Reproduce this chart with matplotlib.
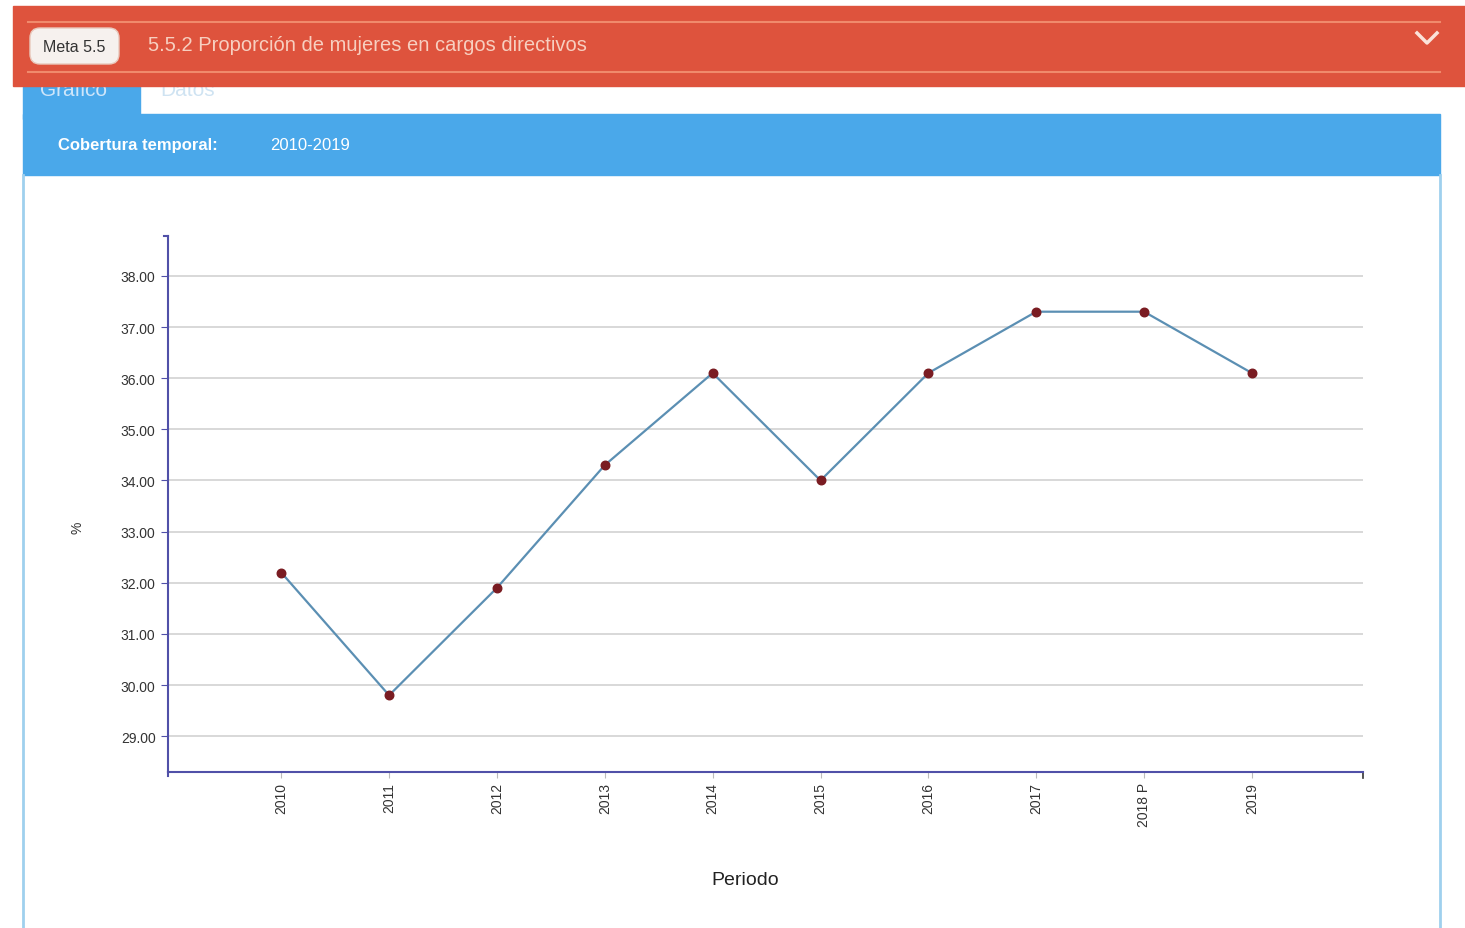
import matplotlib.pyplot as plt
from matplotlib.patches import FancyBboxPatch, Rectangle
import numpy as np

periods = ['2010', '2011', '2012', '2013', '2014', '2015', '2016', '2017', '2018 P', '2019']
values = [32.2, 29.8, 31.9, 34.3, 36.1, 34.0, 36.1, 37.3, 37.3, 36.1]
y_ticks = [29, 30, 31, 32, 33, 34, 35, 36, 37, 38]

plt.rcParams['font.family'] = ['Liberation Sans', 'DejaVu Sans']

W, H = 1465, 929
fig = plt.figure(figsize=(W / 100, H / 100), dpi=100)
fig.patch.set_facecolor('white')

def fx(px):
	return px / W

def fy(py):
	return 1 - py / H

# page chrome drawn in pixel coords
bg = fig.add_axes([0, 0, 1, 1])
bg.set_xlim(0, W)
bg.set_ylim(H, 0)
bg.axis('off')

# blue tab + bar
bg.add_patch(Rectangle((23, 75), 117, 45, color='#4aa8ea', zorder=1))
bg.add_patch(Rectangle((23, 115), 1417, 61, color='#4aa8ea', zorder=1))
bg.text(58, 145, 'Cobertura temporal:', color='white', fontsize=12, fontweight='bold', va='center', ha='left')
bg.text(270, 145, '2010-2019', color='white', fontsize=12, va='center', ha='left')
bg.text(160, 90, 'Datos', color='#cfe3f2', fontsize=15, va='center', ha='left')
bg.text(40, 90, 'Gráfico', color='#cfe6fa', fontsize=15, va='center', ha='left')

# panel borders
bg.plot([23, 23], [176, 929], color='#9fd0ee', lw=2)
bg.plot([1440, 1440], [176, 929], color='#9fd0ee', lw=2)

# red header
bg.add_patch(Rectangle((13, 7), 1452, 80, color='#de533d', zorder=3))
bg.plot([28, 1440], [23, 23], color='#f08a6c', lw=1.5, zorder=4)
bg.plot([28, 1440], [73, 73], color='#f08a6c', lw=1.5, zorder=4)
bg.add_patch(FancyBboxPatch((32, 31), 85, 32, boxstyle='round,pad=2,rounding_size=10',
	facecolor='#f6f1ee', edgecolor='#e9c9bd', zorder=5))
bg.text(74, 47, 'Meta 5.5', color='#333333', fontsize=11.5, ha='center', va='center', zorder=6)
bg.text(148, 45, '5.5.2 Proporción de mujeres en cargos directivos', color='#f7cfc0',
	fontsize=14.5, ha='left', va='center', zorder=6)
bg.plot([1417, 1427, 1437], [34, 44, 34], color='#fbe3da', lw=2.5, zorder=6)

# axis labels placed like the reference
bg.text(78, 528, '%', rotation=90, fontsize=10, color='#333333', ha='center', va='center')
bg.text(745, 881, 'Periodo', fontsize=14, color='#222222', ha='center', va='center')

# chart
ax = fig.add_axes([fx(168), fy(773), fx(1363) - fx(168), fy(237) - fy(773)])
x = np.arange(len(periods))
ax.set_xlim(-1.05, 10.03)
ax.set_ylim(28.3, 38.78)
for v in y_ticks:
	ax.axhline(v, color='#d6d6d6', lw=1.3, zorder=1)
ax.plot(x, values, color='#5b8fb3', lw=1.6, zorder=2)
ax.scatter(x, values, color='#7a1c22', s=38, zorder=3)

ax.set_yticks(y_ticks)
ax.set_yticklabels(['%.2f' % v for v in y_ticks], fontsize=10, color='#333333')
ax.set_xticks(x)
ax.set_xticklabels(periods, rotation=90, fontsize=10, color='#333333')
ax.tick_params(axis='y', length=5, color='#5050a8', pad=4)
ax.tick_params(axis='x', length=4, color='#bbbbbb', pad=3)

for s in ['top', 'right']:
	ax.spines[s].set_visible(False)
ax.spines['left'].set_color('#5050a8')
ax.spines['bottom'].set_color('#5050a8')
ax.spines['left'].set_linewidth(1.5)
ax.spines['bottom'].set_linewidth(1.5)
ax.set_facecolor('none')

# small end caps on the axes
bg.plot([164, 168], [237, 237], color='#5050a8', lw=1.5)
bg.plot([168, 168], [773, 777], color='#5050a8', lw=1.5)
bg.plot([1363, 1363], [773, 779], color='#333333', lw=1.2)

fig.savefig('out.png', dpi=100)
